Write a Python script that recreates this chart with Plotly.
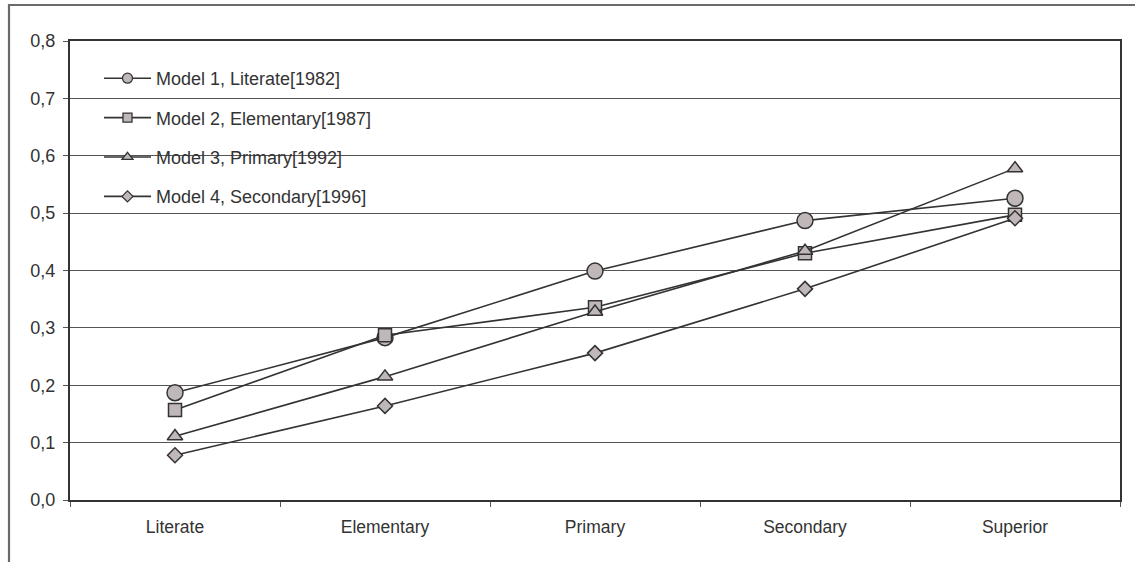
import plotly.graph_objects as go

categories = ["Literate", "Elementary", "Primary", "Secondary", "Superior"]

model1 = [0.187, 0.283, 0.399, 0.487, 0.526]
model2 = [0.157, 0.287, 0.336, 0.430, 0.497]
model3 = [0.111, 0.215, 0.328, 0.434, 0.578]
model4 = [0.078, 0.164, 0.256, 0.368, 0.491]

series_names = [
    "Model 1, Literate[1982]",
    "Model 2, Elementary[1987]",
    "Model 3, Primary[1992]",
    "Model 4, Secondary[1996]",
]
series_values = [model1, model2, model3, model4]
symbols = ["circle", "square", "triangle-up", "diamond"]
plot_sizes = [16, 13, 13.5, 11.5]
legend_sizes = [10, 9, 9.5, 8.5]

LINE = "#333333"
FILL = "#C0B8B8"
FONT = "Liberation Sans, Arial, sans-serif"

W, H = 1135, 562
L, R, T, B = 70, 15, 41, 62

fig = go.Figure()

for i, (name, vals, sym, ps, ls) in enumerate(zip(series_names, series_values, symbols, plot_sizes, legend_sizes)):
    fig.add_trace(go.Scatter(
        x=categories, y=vals, mode="lines+markers", name=name,
        line=dict(color=LINE, width=1.6),
        marker=dict(symbol=sym, size=ps, color=FILL, line=dict(color=LINE, width=1.5)),
        showlegend=False, cliponaxis=False,
    ))
    # smaller glyph used for the legend entry
    fig.add_trace(go.Scatter(
        x=[None], y=[None], mode="lines+markers", name=name,
        legendgroup=f"g{i}",
        line=dict(color=LINE, width=1.6),
        marker=dict(symbol=sym, size=ls, color=FILL, line=dict(color=LINE, width=1.3)),
        showlegend=True,
    ))

pw = W - L - R
ph = H - T - B

def px_x(p):
    return (p - L) / pw

def px_y(p):
    return (H - B - p) / ph

# outer frame of the chart
fig.add_shape(type="rect", xref="paper", yref="paper",
              x0=px_x(9), x1=px_x(1145), y0=px_y(5), y1=px_y(575),
              line=dict(color="#6a6a6a", width=2.2), layer="below")

# white backdrop behind the legend, hiding the gridlines there
fig.add_shape(type="rect", xref="paper", yref="paper",
              x0=px_x(90), x1=px_x(385), y0=px_y(58), y1=px_y(218),
              line=dict(width=0), fillcolor="white", layer="between")

fig.update_layout(
    width=W, height=H,
    margin=dict(l=L, r=R, t=T, b=B, pad=0),
    paper_bgcolor="white", plot_bgcolor="white",
    separators=",.",
    font=dict(family=FONT, size=18, color="#333333"),
    showlegend=True,
    legend=dict(
        x=px_x(99), y=px_y(60), xanchor="left", yanchor="top",
        bgcolor="rgba(0,0,0,0)", borderwidth=0,
        font=dict(family=FONT, size=18, color="#333333"),
        traceorder="grouped", tracegroupgap=13, itemwidth=47,
    ),
    xaxis=dict(
        type="category", range=[-0.5, 4.5],
        showline=True, linecolor="#333333", linewidth=2, mirror=True,
        ticks="outside", ticklen=5, tickcolor="#555555", tickwidth=1,
        tickson="boundaries", showgrid=False,
        tickfont=dict(family=FONT, size=17.5, color="#333333"),
        ticklabelstandoff=10,
    ),
    yaxis=dict(
        range=[0, 0.8], dtick=0.1, tickformat=".1f",
        showline=True, linecolor="#333333", linewidth=2, mirror=True,
        ticks="outside", ticklen=5, tickcolor="#555555", tickwidth=1,
        showgrid=True, gridcolor="#555555", gridwidth=1,
        zeroline=False,
        tickfont=dict(family=FONT, size=18, color="#333333"),
        ticklabelstandoff=4,
    ),
)

fig.write_html("out.html")
